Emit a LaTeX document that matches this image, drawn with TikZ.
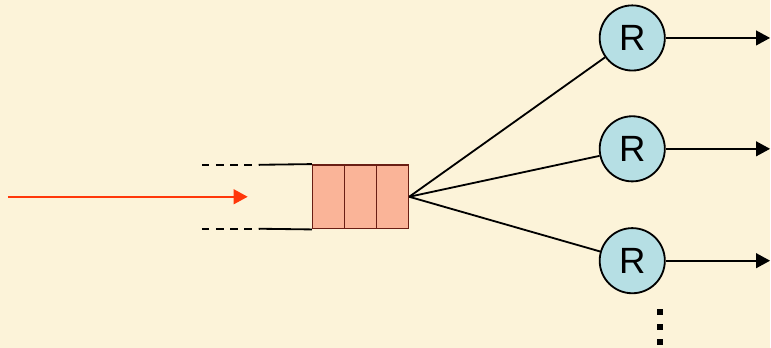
\documentclass[tikz,border=0pt]{standalone}
\usepackage{fontspec}
\setmainfont{Liberation Sans}
\usepackage{xcolor}
\usetikzlibrary{arrows.meta}

\definecolor{paper}{RGB}{252,243,217}
\definecolor{cellfill}{RGB}{250,180,152}
\definecolor{celldraw}{RGB}{105,30,20}
\definecolor{rfill}{RGB}{182,223,228}
\definecolor{inred}{RGB}{255,55,10}

\begin{document}
\begin{tikzpicture}[x=0.025cm, y=-0.025cm, line width=1.3pt,
    >={Triangle[length=10pt, width=10.5pt]},
    cell/.style={draw=celldraw, fill=cellfill, line width=1pt, minimum width=0.8cm, minimum height=1.6cm, inner sep=0pt},
    server/.style={draw, circle, fill=rfill, minimum size=1.63cm, inner sep=0pt, font=\fontsize{26}{30}\selectfont},
    dashpart/.style={dash pattern=on 5.5pt off 4.6pt}]
% paper background, also fixes the bounding box
\fill[paper] (0,0) rectangle (771,348);

% queue
\node[cell] (cell1) at (329,197) {};
\node[cell] (cell2) at (361,197) {};
\node[cell] (cell3) at (393,197) {};
\coordinate (topsolid) at (259,165);
\coordinate (topdash) at (202,165);
\coordinate (botsolid) at (259,229);
\coordinate (botdash) at (202,229);
\draw (cell1.north west) -- (topsolid);
\draw[dashpart] (topdash) -- (topsolid);
\draw (cell1.south west) -- (botsolid);
\draw[dashpart] (botdash) -- (botsolid);

% arrivals
\coordinate (src) at (8,197);
\coordinate (arr) at (248,197);
\draw[->, inred, line width=1.4pt] (src) -- (arr);

% servers
\node[server] (r1) at (633,38) {R};
\node[server] (r2) at (633,149) {R};
\node[server] (r3) at (633,261) {R};
\foreach \i/\y in {1/38, 2/149, 3/261} {
  \coordinate (out\i) at (771,\y);
  \draw (cell3.east) -- (r\i);
  \draw[->] (r\i) -- (out\i);
}

% more servers
\foreach \y in {312,327,342}
  \fill (661,\y) +(-3,-3) rectangle +(3,3);
\end{tikzpicture}
\end{document}
